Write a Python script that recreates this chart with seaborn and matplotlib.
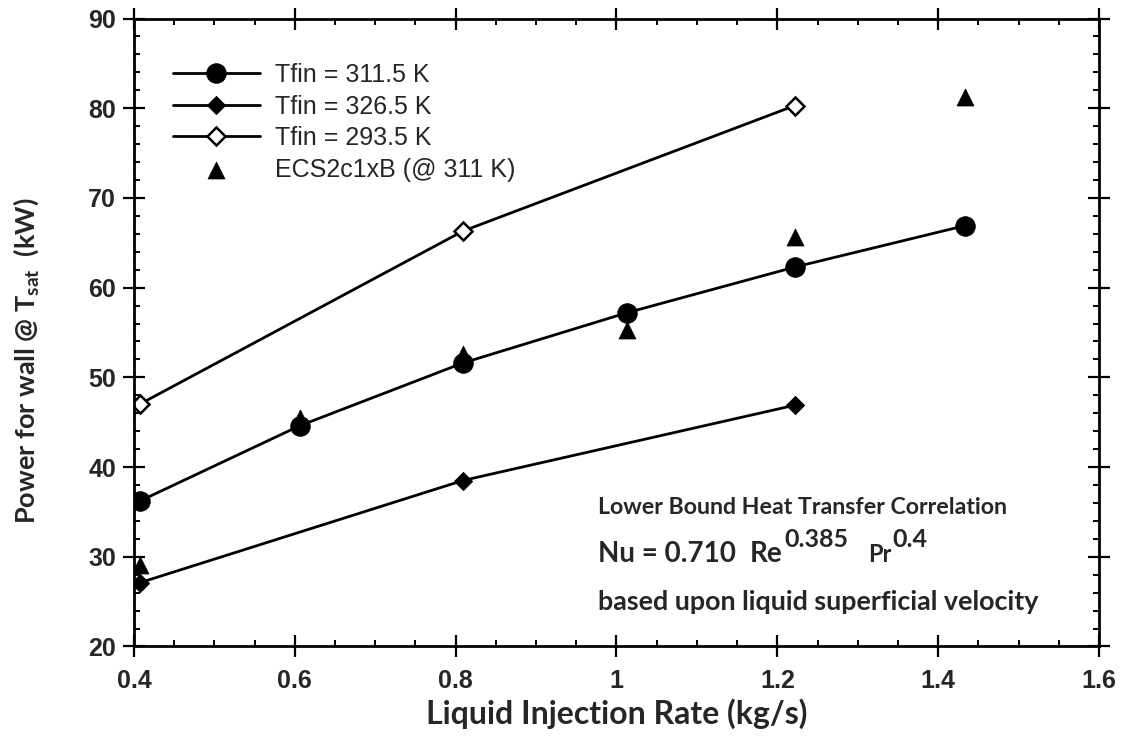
import matplotlib
matplotlib.use("Agg")
import matplotlib.pyplot as plt
from matplotlib.ticker import MultipleLocator, FixedLocator, FuncFormatter
from matplotlib.transforms import offset_copy
import seaborn as sns

# ---------------- data ----------------
x_311 = [0.407, 0.606, 0.809, 1.013, 1.222, 1.433]
y_311 = [36.2, 44.6, 51.6, 57.2, 62.3, 66.9]

x_326 = [0.407, 0.809, 1.222]
y_326 = [27.1, 38.5, 46.9]

x_293 = [0.407, 0.809, 1.222]
y_293 = [47.0, 66.3, 80.3]

x_ecs = [0.407, 0.606, 0.809, 1.013, 1.222, 1.433]
y_ecs = [29.1, 45.5, 52.6, 55.3, 65.6, 81.2]

labels = ["Tfin = 311.5 K", "Tfin = 326.5 K", "Tfin = 293.5 K", "ECS2c1xB (@ 311 K)"]
x_ticks = [0.4, 0.6, 0.8, 1.0, 1.2, 1.4, 1.6]
y_ticks = [20, 30, 40, 50, 60, 70, 80, 90]

# ---------------- style ----------------
sns.set_style("ticks")
plt.rcParams["font.family"] = ["Liberation Sans", "DejaVu Sans"]
plt.rcParams["mathtext.default"] = "regular"

fig = plt.figure(figsize=(11.41, 7.46), dpi=100)
ax = fig.add_axes([0.1174, 0.1334, 0.8458, 0.8418])

lw = 2.0
sns.lineplot(x=x_311, y=y_311, ax=ax, color="black", lw=lw, marker="o",
             markersize=14, markerfacecolor="black", markeredgecolor="black",
             label=labels[0], sort=False)
sns.lineplot(x=x_326, y=y_326, ax=ax, color="black", lw=lw, marker="D",
             markersize=9.5, markerfacecolor="black", markeredgecolor="black",
             label=labels[1], sort=False)
sns.lineplot(x=x_293, y=y_293, ax=ax, color="black", lw=lw, marker="D",
             markersize=9, markerfacecolor="white", markeredgecolor="black",
             markeredgewidth=1.8, label=labels[2], sort=False)
sns.scatterplot(x=x_ecs, y=y_ecs, ax=ax, color="black", marker="^", s=150,
                edgecolor="black", linewidth=0.5, label=labels[3], zorder=5)

ax.set_xlim(0.4, 1.6)
ax.set_ylim(20, 90)
ax.xaxis.set_major_locator(FixedLocator(x_ticks))
ax.yaxis.set_major_locator(FixedLocator(y_ticks))
ax.xaxis.set_minor_locator(MultipleLocator(0.05))
ax.yaxis.set_minor_locator(MultipleLocator(2))
ax.xaxis.set_major_formatter(FuncFormatter(lambda v, p: f"{v:g}"))

for s in ax.spines.values():
    s.set_visible(True)
    s.set_linewidth(2)
    s.set_color("black")

ax.tick_params(which="both", top=True, right=True, color="black")
ax.tick_params(which="major", direction="inout", length=16, width=1.6, labelsize=18)
ax.tick_params(which="minor", direction="in", length=4, width=1.4)
ax.tick_params(axis="y", which="major", pad=5)
ax.tick_params(axis="x", which="major", pad=8)
for lab in ax.get_xticklabels() + ax.get_yticklabels():
    lab.set_fontweight("bold")

lato = ["Lato", "DejaVu Sans"]
ax.set_xlabel("Liquid Injection Rate (kg/s)", labelpad=4, family=lato,
              weight="bold", size=23)
ax.set_ylabel("Power for wall @ T$_{sat}$  (kW)", family=lato, weight="bold", size=19.5)
ax.yaxis.set_label_coords(-0.096, 0.455)

leg = ax.legend(loc="upper left", bbox_to_anchor=(0.04, 0.929), frameon=False,
                fontsize=18, handlelength=3.5, handletextpad=0.6, labelspacing=0.3,
                borderaxespad=0, borderpad=0)

# ---------------- annotation ----------------
x0 = 0.481
ax.text(x0, 0.222, "Lower Bound Heat Transfer Correlation", va="center",
        family=lato, weight="bold", size=16.7, transform=ax.transAxes)
ax.text(x0, 0.071, "based upon liquid superficial velocity", va="center",
        family=lato, weight="bold", size=19.4, transform=ax.transAxes)

# formula: pieces chained left to right (text, size, raise_px, gap_px)
parts = [("Nu = 0.710", 20, 0, 0), ("Re", 20, 0, 14), ("0.385", 18, 15, 1),
         ("Pr", 17, 0, 20), ("0.4", 18, 15, 1)]
renderer = fig.canvas.get_renderer()
x_px = ax.transAxes.transform((x0, 0))[0]
y_base = 0.135
for txt, size, dy, gap in parts:
    x_px += gap
    xa = ax.transAxes.inverted().transform((x_px, 0))[0]
    tr = offset_copy(ax.transAxes, fig=fig, x=0, y=dy, units="dots")
    t = ax.text(xa, y_base, txt, va="baseline", ha="left", family=lato,
                weight="bold", size=size, transform=tr)
    x_px = t.get_window_extent(renderer).x1

fig.savefig("out.png", dpi=100)
